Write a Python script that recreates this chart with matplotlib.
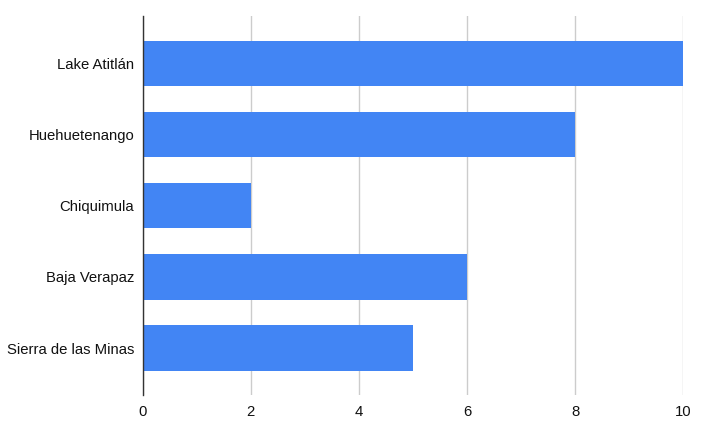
import matplotlib
matplotlib.use("Agg")
import matplotlib.pyplot as plt

categories = ["Lake Atitlán", "Huehuetenango", "Chiquimula", "Baja Verapaz", "Sierra de las Minas"]
values = [10, 8, 2, 6, 5]
xticks = [0, 2, 4, 6, 8, 10]

plt.rcParams['font.family'] = ['Liberation Sans', 'DejaVu Sans']

W, H = 705, 423
fig = plt.figure(figsize=(W/100, H/100), dpi=100)
left, right = 142.7/W, 683.3/W
top, bottom = 16/H, 395/H
ax = fig.add_axes([left, 1-bottom, right-left, bottom-top])

ypos = list(range(len(categories)))
ax.barh(ypos, values, height=0.64, color="#4285F4", zorder=3)
ax.set_xlim(0, 10)
ax.set_ylim(4.66, -0.666)
ax.set_yticks(ypos)
ax.set_yticklabels(categories, fontsize=10.7, color="#111111")
ax.set_xticks(xticks)
ax.set_xticklabels([str(x) for x in xticks], fontsize=10.7, color="#111111")
ax.tick_params(axis='both', length=0)
ax.tick_params(axis='y', pad=6)
ax.tick_params(axis='x', pad=7)
ax.grid(axis='x', color="#cccccc", linewidth=1, zorder=0)
for s in ['top', 'right', 'bottom']:
    ax.spines[s].set_visible(False)
ax.spines['left'].set_color("#333333")
ax.spines['left'].set_linewidth(1)
ax.spines['left'].set_zorder(4)

fig.savefig("out.png", dpi=100)
